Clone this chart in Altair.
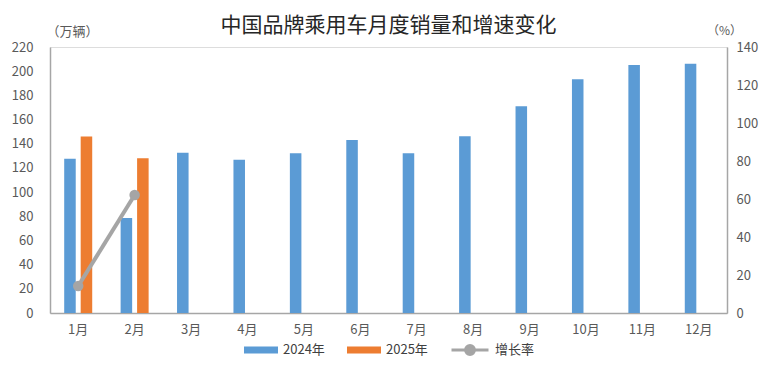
import altair as alt
import pandas as pd

months = ["1月", "2月", "3月", "4月", "5月", "6月", "7月", "8月", "9月", "10月", "11月", "12月"]
sales_2024 = [127.5, 78.5, 132.6, 126.8, 132.1, 143.1, 132.1, 146.2, 171.0, 193.3, 205.1, 206.2]
sales_2025 = [146.0, 128.0]
growth = [14.2, 62.1]

FONT = "Noto Sans CJK SC"
GRAY_TXT = "#595959"

rows = []
for m, v in zip(months, sales_2024):
    rows.append({"month": m, "year": "2024年", "value": v})
for m, v in zip(months, sales_2025):
    rows.append({"month": m, "year": "2025年", "value": v})
bars_df = pd.DataFrame(rows)
line_df = pd.DataFrame({"month": months[:len(growth)], "growth": growth, "series": "增长率"})

xscale = alt.Scale(domain=months, paddingInner=0.5035, paddingOuter=0.2517)
xaxis = alt.Axis(title=None, labelAngle=0, ticks=False, domainColor="#A6A6A6", domainWidth=1.5,
                 labelColor=GRAY_TXT, labelFontSize=13, labelFont=FONT, labelPadding=10)

bars = alt.Chart(bars_df).mark_bar().encode(
    x=alt.X("month:N", scale=xscale, axis=xaxis, sort=months),
    xOffset=alt.XOffset("year:N", scale=alt.Scale(domain=["2024年", "2025年"], paddingInner=0.3, paddingOuter=0)),
    y=alt.Y("value:Q", scale=alt.Scale(domain=[0, 220], nice=False),
            axis=alt.Axis(title="（万辆）", titleAngle=0, titleX=22, titleY=-9, titleFontSize=13,
                          titleFont=FONT, titleColor=GRAY_TXT, titleFontWeight="normal",
                          titleAlign="center",
                          values=list(range(0, 221, 20)), grid=False, ticks=False,
                          domainColor="#A6A6A6", domainWidth=1.5, labelPadding=17,
                          labelColor=GRAY_TXT, labelFontSize=13, labelFont=FONT)),
    color=alt.Color("year:N", scale=alt.Scale(domain=["2024年", "2025年"], range=["#5B9BD5", "#ED7D31"]),
                    legend=alt.Legend(title=None, orient="none", legendX=194, legendY=286,
                                      direction="horizontal", symbolType="M-1,-0.2H1V0.2H-1Z",
                                      symbolSize=1156, symbolStrokeWidth=0, columnPadding=22,
                                      labelFontSize=13, labelFont=FONT, labelColor="#404040",
                                      labelOffset=5)),
)

ry = alt.Scale(domain=[0, 140], nice=False)
ryaxis = alt.Axis(title="（%）", orient="right", titleAngle=0, titleX=-3, titleY=-10, titleFontSize=12,
                  titleFont=FONT, titleColor=GRAY_TXT, titleFontWeight="normal", titleAlign="center",
                  values=list(range(0, 141, 20)), grid=False, ticks=False,
                  domainColor="#A6A6A6", domainWidth=1.5, labelPadding=9,
                  labelColor=GRAY_TXT, labelFontSize=13, labelFont=FONT)

line = alt.Chart(line_df).mark_line(strokeWidth=4).encode(
    x=alt.X("month:N", scale=xscale, sort=months),
    y=alt.Y("growth:Q", scale=ry, axis=ryaxis),
    stroke=alt.Stroke("series:N", scale=alt.Scale(domain=["增长率"], range=["#A5A5A5"]),
                      legend=alt.Legend(title=None, orient="none", legendX=400, legendY=283,
                                        symbolType="M-1,0H1M-0.24,0A0.24,0.24,0,1,0,0.24,0A0.24,0.24,0,1,0,-0.24,0Z",
                                        symbolSize=1369, symbolStrokeWidth=3, symbolFillColor="#A5A5A5",
                                        labelFontSize=13, labelFont=FONT, labelColor="#404040",
                                        labelOffset=5)),
)
pts = alt.Chart(line_df).mark_circle(size=110, opacity=1, color="#A5A5A5").encode(
    x=alt.X("month:N", scale=xscale, sort=months),
    y=alt.Y("growth:Q", scale=ry, axis=ryaxis),
)

right = alt.layer(line, pts)

chart = alt.layer(bars, right).resolve_scale(y="independent").properties(
    width=677, height=266,
    autosize=alt.AutoSizeParams(type="none"),
    padding={"left": 42, "top": 39, "right": 37, "bottom": 46},
    title=alt.TitleParams("中国品牌乘用车月度销量和增速变化", fontSize=21, font=FONT,
                          fontWeight="normal", color="#262626", anchor="middle", offset=-12),
).configure_view(stroke=None).configure(background="white")

chart.save("out.html", embed_options={"renderer": "svg", "actions": False})
